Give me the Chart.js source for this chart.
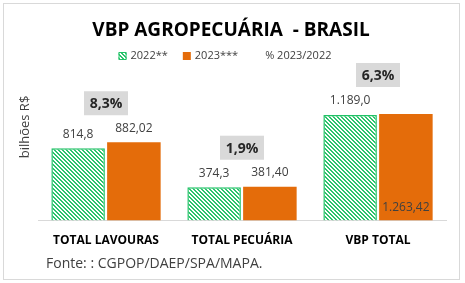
<!DOCTYPE html>
<html>
<head>
<meta charset="utf-8">
<script src="https://cdn.jsdelivr.net/npm/chart.js@4"></script>
<style>
body { margin: 0; background: #fff; }
</style>
</head>
<body>
<canvas id="vbpChart" width="465" height="283"></canvas>
<script>
const categories = ['TOTAL LAVOURAS', 'TOTAL PECUÁRIA', 'VBP TOTAL'];
const values2022 = [814.8, 374.3, 1189.0];
const values2023 = [882.02, 381.40, 1263.42];
const pctChange = [8.3, 1.9, 6.3];
const seriesLabels = ['2022**', '2023***', '% 2023/2022'];
const axisMax = 1200;

const chartTitle = 'VBP AGROPECUÁRIA  - BRASIL';
const FONT = '"Open Sans", "Noto Sans", sans-serif';

// pt-BR number format: 1.263,42
function fmt(v, decimals) {
    const parts = v.toFixed(decimals).split('.');
    return parts[0].replace(/\B(?=(\d{3})+(?!\d))/g, '.') + ',' + parts[1];
}

function stripePattern(color) {
    const c = document.createElement('canvas');
    c.width = 4;
    c.height = 4;
    const g = c.getContext('2d');
    g.fillStyle = '#ffffff';
    g.fillRect(0, 0, 4, 4);
    g.fillStyle = color;
    for (let i = 0; i < 4; i++) {
        g.fillRect(i, i, 1, 1);
        g.fillRect((i + 1) % 4, i, 1, 1);
    }
    return g.createPattern(c, 'repeat');
}

const greenHatch = stripePattern('#2cc46c');

// title + legend drawn by hand so they sit off-centre like the original
const header = {
    id: 'header',
    afterDraw(chart) {
        const ctx = chart.ctx;
        ctx.save();
        ctx.textBaseline = 'middle';
        ctx.textAlign = 'center';
        ctx.fillStyle = '#000';
        ctx.font = 'bold 19px ' + FONT;
        ctx.fillText(chartTitle, 231, 31);

        const y = 56;
        ctx.font = '11px ' + FONT;
        ctx.textAlign = 'left';
        const widths = chart.data.datasets.map(ds => 8 + 4 + ctx.measureText(ds.label).width);
        const total = widths.reduce((a, b) => a + b, 0) + 15 * (widths.length - 1);
        let x = 225 - total / 2;
        chart.data.datasets.forEach((ds, i) => {
            if (ds.type !== 'line') {
                ctx.fillStyle = ds.backgroundColor;
                ctx.fillRect(x, y - 4, 8, 8);
                if (ds.borderWidth) {
                    ctx.strokeStyle = ds.borderColor;
                    ctx.lineWidth = 1;
                    ctx.strokeRect(x + 0.5, y - 3.5, 7, 7);
                }
            }
            ctx.fillStyle = '#404040';
            ctx.fillText(ds.label, x + 12, y);
            x += widths[i] + 15;
        });
        ctx.restore();
    }
};

const barLabels = {
    id: 'barLabels',
    afterDatasetsDraw(chart) {
        const ctx = chart.ctx;
        const area = chart.chartArea;
        ctx.save();
        ctx.textAlign = 'center';
        ctx.textBaseline = 'middle';
        ctx.font = '12px ' + FONT;
        ctx.fillStyle = '#404040';
        [0, 1].forEach(di => {
            const vals = chart.data.datasets[di].data;
            chart.getDatasetMeta(di).data.forEach((bar, i) => {
                const txt = fmt(vals[i], di === 0 ? 1 : 2);
                if (vals[i] > axisMax) {
                    ctx.fillText(txt, bar.x, area.bottom - 13);
                } else {
                    ctx.fillText(txt, bar.x, bar.y - 14);
                }
            });
        });

        const m0 = chart.getDatasetMeta(0);
        const m1 = chart.getDatasetMeta(1);
        const mp = chart.getDatasetMeta(2);
        ctx.font = 'bold 14px ' + FONT;
        pctChange.forEach((p, i) => {
            const top = Math.max(Math.min(m0.data[i].y, m1.data[i].y), area.top);
            const x = mp.data[i].x;
            const y = top - 39;
            ctx.fillStyle = '#d9d9d9';
            ctx.fillRect(x - 22, y - 12, 44, 24);
            ctx.fillStyle = '#262626';
            ctx.fillText(fmt(p, 1) + '%', x, y + 1);
        });
        ctx.restore();
    }
};

const frame = {
    id: 'frame',
    afterDraw(chart) {
        const ctx = chart.ctx;
        ctx.save();
        ctx.strokeStyle = '#d9d9d9';
        ctx.lineWidth = 1;
        ctx.strokeRect(3.5, 3.5, 456, 276);

        ctx.fillStyle = '#404040';
        ctx.font = '14px ' + FONT;
        ctx.textBaseline = 'middle';
        ctx.textAlign = 'left';
        ctx.fillText('Fonte: : CGPOP/DAEP/SPA/MAPA.', 46, 264);

        ctx.font = '13px ' + FONT;
        ctx.translate(25, 127);
        ctx.rotate(-Math.PI / 2);
        ctx.textAlign = 'center';
        ctx.fillText('bilhões R$', 0, 0);
        ctx.restore();
    }
};

new Chart(document.getElementById('vbpChart'), {
    type: 'bar',
    data: {
        labels: categories,
        datasets: [{
            label: seriesLabels[0],
            data: values2022,
            backgroundColor: greenHatch,
            borderColor: '#22c267',
            borderWidth: 1.5,
            categoryPercentage: 0.82,
            barPercentage: 0.96
        }, {
            label: seriesLabels[1],
            data: values2023,
            backgroundColor: '#e46c0a',
            borderWidth: 0,
            categoryPercentage: 0.82,
            barPercentage: 0.96
        }, {
            type: 'line',
            label: seriesLabels[2],
            data: pctChange,
            yAxisID: 'pct',
            showLine: false,
            pointRadius: 0,
            backgroundColor: 'rgba(0,0,0,0)',
            borderColor: 'rgba(0,0,0,0)',
            borderWidth: 0
        }]
    },
    options: {
        responsive: false,
        animation: false,
        layout: {
            padding: { left: 38, right: 19, top: 114, bottom: 22 }
        },
        plugins: {
            title: { display: false },
            legend: { display: false },
            tooltip: { enabled: false }
        },
        scales: {
            x: {
                grid: { display: false, drawTicks: false },
                border: { color: '#d9d9d9' },
                ticks: {
                    color: '#000',
                    padding: 13,
                    font: { family: FONT, size: 12, weight: 'bold' }
                }
            },
            y: { display: false, min: 0, max: axisMax },
            pct: { display: false, min: 0, max: 10 }
        }
    },
    plugins: [header, barLabels, frame]
});
</script>
</body>
</html>
